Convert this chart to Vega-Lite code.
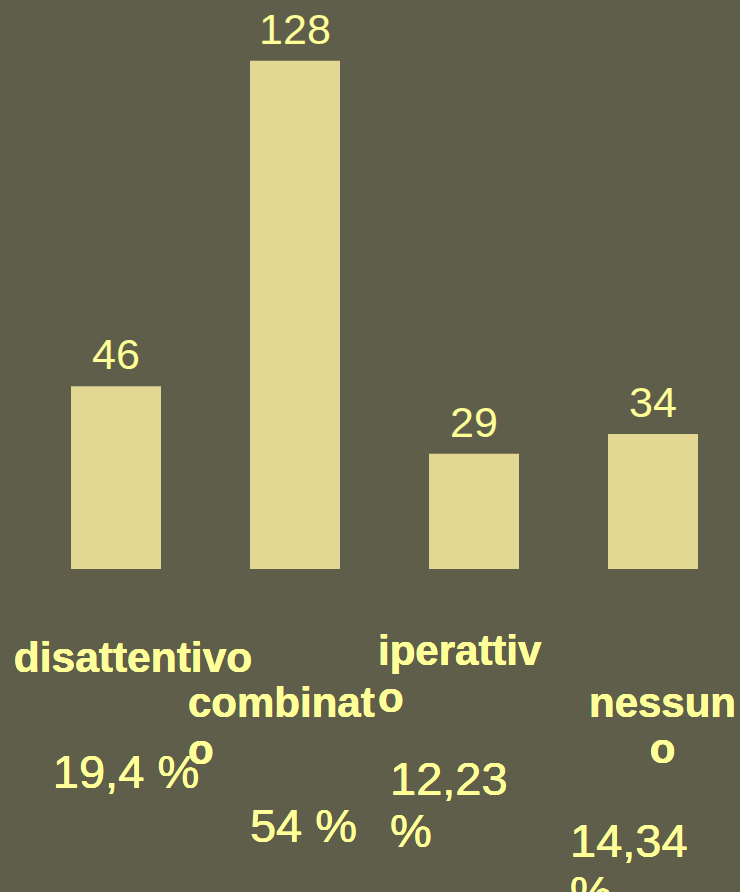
{
  "$schema": "https://vega.github.io/schema/vega-lite/v6.json",
  "width": 740,
  "height": 569,
  "padding": 0,
  "background": "#5f5e4b",
  "config": {
    "view": {"stroke": null},
    "axis": {"domain": false, "ticks": false, "labels": false, "grid": false, "title": null},
    "text": {"font": "Liberation Sans", "color": "#ffff99"}
  },
  "data": {
    "values": [
      {"category": "disattentivo", "count": 46, "pct": "19,4 %"},
      {"category": "combinato", "count": 128, "pct": "54 %"},
      {"category": "iperattivo", "count": 29, "pct": "12,23 %"},
      {"category": "nessuno", "count": 34, "pct": "14,34 %"}
    ]
  },
  "encoding": {
    "x": {
      "field": "category",
      "type": "nominal",
      "sort": null,
      "axis": null,
      "scale": {"paddingInner": 0.49721, "paddingOuter": 0.315645, "align": 0.6283}
    }
  },
  "layer": [
    {
      "mark": {"type": "bar", "color": "#e2d894"},
      "encoding": {
        "y": {"field": "count", "type": "quantitative", "axis": null, "scale": {"domain": [0, 143.3], "nice": false, "zero": true}}
      }
    },
    {
      "mark": {"type": "text", "fontSize": 43, "baseline": "alphabetic", "dy": -17},
      "encoding": {
        "y": {"field": "count", "type": "quantitative", "axis": null},
        "text": {"field": "count", "type": "quantitative"}
      }
    },
    {
      "mark": {"type": "text", "fontSize": 42.5, "fontWeight": "bold", "baseline": "alphabetic", "align": "center", "dx": 17, "dy": 103},
      "encoding": {"x": {"datum": "disattentivo", "axis": null}, "y": {"datum": 0, "type": "quantitative", "axis": null}, "text": {"value": "disattentivo"}}
    },
    {
      "mark": {"type": "text", "fontSize": 42, "fontWeight": "bold", "baseline": "alphabetic", "align": "left", "dx": -107, "dy": 148, "lineBreak": "\n", "lineHeight": 47},
      "encoding": {"x": {"datum": "combinato", "axis": null}, "y": {"datum": 0, "type": "quantitative", "axis": null}, "text": {"value": "combinat\no"}}
    },
    {
      "mark": {"type": "text", "fontSize": 42, "fontWeight": "bold", "baseline": "alphabetic", "align": "left", "dx": -96, "dy": 96, "lineBreak": "\n", "lineHeight": 47},
      "encoding": {"x": {"datum": "iperattivo", "axis": null}, "y": {"datum": 0, "type": "quantitative", "axis": null}, "text": {"value": "iperattiv\no"}}
    },
    {
      "mark": {"type": "text", "fontSize": 42, "fontWeight": "bold", "baseline": "alphabetic", "align": "center", "dx": 9.5, "dy": 148, "lineBreak": "\n", "lineHeight": 46},
      "encoding": {"x": {"datum": "nessuno", "axis": null}, "y": {"datum": 0, "type": "quantitative", "axis": null}, "text": {"value": "nessun\no"}}
    },
    {
      "mark": {"type": "text", "fontSize": 47, "baseline": "alphabetic", "align": "center", "dx": 10, "dy": 219},
      "encoding": {"x": {"datum": "disattentivo", "axis": null}, "y": {"datum": 0, "type": "quantitative", "axis": null}, "text": {"value": "19,4 %"}}
    },
    {
      "mark": {"type": "text", "fontSize": 47, "baseline": "alphabetic", "align": "center", "dx": 8.5, "dy": 273},
      "encoding": {"x": {"datum": "combinato", "axis": null}, "y": {"datum": 0, "type": "quantitative", "axis": null}, "text": {"value": "54 %"}}
    },
    {
      "mark": {"type": "text", "fontSize": 47, "baseline": "alphabetic", "align": "left", "dx": -84, "dy": 226, "lineBreak": "\n", "lineHeight": 52},
      "encoding": {"x": {"datum": "iperattivo", "axis": null}, "y": {"datum": 0, "type": "quantitative", "axis": null}, "text": {"value": "12,23\n%"}}
    },
    {
      "mark": {"type": "text", "fontSize": 47, "baseline": "alphabetic", "align": "left", "dx": -83, "dy": 288, "lineBreak": "\n", "lineHeight": 52},
      "encoding": {"x": {"datum": "nessuno", "axis": null}, "y": {"datum": 0, "type": "quantitative", "axis": null}, "text": {"value": "14,34\n%"}}
    }
  ]
}
